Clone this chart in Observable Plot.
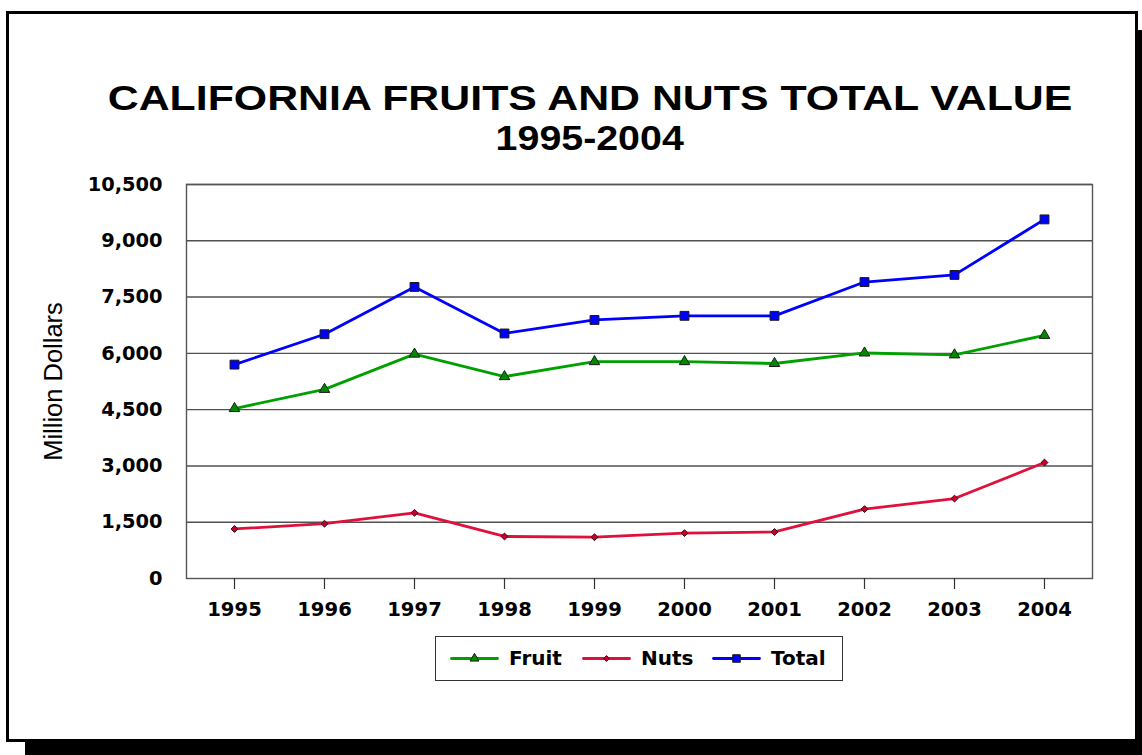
<!DOCTYPE html>
<html>
<head>
<meta charset="utf-8">
<script src="https://cdn.jsdelivr.net/npm/d3@7"></script>
<script src="https://cdn.jsdelivr.net/npm/@observablehq/plot@0.6"></script>
<style>
  html, body { margin: 0; padding: 0; background: #fff; }
  body { width: 1142px; height: 755px; position: relative; overflow: hidden; }
  #frame { position: absolute; left: 6px; top: 11px; width: 1132px; height: 731px; box-sizing: border-box;
           border: 3px solid #000; box-shadow: 19px 19px 0 #000; background: #fff; }
  .title { position: absolute; left: 19px; width: 1142px; text-align: center; font-family: "Liberation Sans", Arial, sans-serif;
           font-weight: bold; color: #000; white-space: nowrap; }
  .title span { display: inline-block; }
  #t1 { top: 80px; font-size: 35px; line-height: 35px; }
  #t1 span { transform: scaleX(1.224); }
  #t2 { top: 120px; font-size: 35px; line-height: 35px; }
  #t2 span { transform: scaleX(1.124); }
  #chart { position: absolute; left: 0; top: 170px; }
  #legend { position: absolute; left: 435px; top: 636px; width: 408px; height: 45px; box-sizing: border-box;
            border: 1.5px solid #333; background: #fff; }
  .lg { position: absolute; top: 0; height: 42px; line-height: 42px; font-family: "DejaVu Sans", sans-serif;
        font-weight: bold; font-size: 20px; color: #000; }
  .sw { position: absolute; top: 12px; }
</style>
</head>
<body>
<div id="frame"></div>
<div class="title" id="t1"><span>CALIFORNIA FRUITS AND NUTS TOTAL VALUE</span></div>
<div class="title" id="t2"><span>1995-2004</span></div>
<div id="chart"></div>
<div id="legend"></div>
<script>
const years = ["1995","1996","1997","1998","1999","2000","2001","2002","2003","2004"];
const fruit = [4530, 5040, 5980, 5380, 5780, 5780, 5730, 6010, 5960, 6480];
const nuts  = [1320, 1460, 1750, 1120, 1100, 1210, 1240, 1850, 2130, 3090];
const total = [5700, 6510, 7770, 6530, 6890, 7000, 7000, 7900, 8090, 9570];
const yTicks = [0, 1500, 3000, 4500, 6000, 7500, 9000, 10500];
const seriesNames = ["Fruit", "Nuts", "Total"];

const colors = {Fruit: "#00a000", Nuts: "#e0103c", Total: "#0000ff"};
const markFill = {Fruit: "#008a00", Nuts: "#c8002c", Total: "#0000ff"};
const symbols = {Fruit: "triangle", Nuts: "diamond2", Total: "square"};
const sizes = {Fruit: 3.9, Nuts: 3.1, Total: 5.0};
const seriesVals = {Fruit: fruit, Nuts: nuts, Total: total};

const rows = seriesNames.flatMap(s => years.map((yr, i) => ({series: s, year: yr, value: seriesVals[s][i]})));

const marks = [
  Plot.ruleY(yTicks.slice(1), {stroke: "#505050", strokeWidth: 1.4}),
  Plot.frame({stroke: "#555", strokeWidth: 1.4}),
  Plot.axisX({tickSize: 11, tickPadding: 13, fontSize: 19.6, fontFamily: "DejaVu Sans", fontWeight: "bold", stroke: "#333", strokeWidth: 1.2, label: null}),
  Plot.axisY({ticks: yTicks, tickSize: 0, tickPadding: 24, fontSize: 19.4, fontFamily: "DejaVu Sans", fontWeight: "bold", tickFormat: d3.format(","), label: null}),
  Plot.text(["Million Dollars"], {frameAnchor: "left", dx: -133, rotate: -90, textAnchor: "middle", fontSize: 25.5, fontFamily: "Liberation Sans", fill: "#000"})
];
for (const s of seriesNames) {
  const d = rows.filter(r => r.series === s);
  marks.push(Plot.line(d, {x: "year", y: "value", stroke: colors[s], strokeWidth: 2.8}));
  marks.push(Plot.dot(d, {x: "year", y: "value", symbol: symbols[s], r: sizes[s], fill: markFill[s], stroke: "#1a1a1a", strokeWidth: 1}));
}

const chart = Plot.plot({
  width: 1142,
  height: 460,
  marginTop: 14,
  marginBottom: 52,
  marginLeft: 186,
  marginRight: 50,
  style: {background: "transparent", color: "#000", overflow: "visible"},
  x: {type: "point", domain: years, padding: 0.5, axis: null},
  y: {domain: [0, 10500], axis: null},
  marks
});
document.getElementById("chart").appendChild(chart);

// Legend
const legend = document.getElementById("legend");
const lgPos = {Fruit: [15, 73], Nuts: [147, 205], Total: [277, 335]};
for (const s of seriesNames) {
  const [sx, tx] = lgPos[s];
  const sw = Plot.plot({
    width: 46, height: 18, margin: 0,
    x: {domain: [0, 1], axis: null}, y: {domain: [0, 1], axis: null},
    style: {background: "transparent", overflow: "visible"},
    marks: [
      Plot.lineY([0.5, 0.5], {x: [0, 1], stroke: colors[s], strokeWidth: 2.8}),
      Plot.dot([0], {x: () => 0.5, y: () => 0.5, symbol: symbols[s], r: sizes[s] * 0.85, fill: markFill[s], stroke: "#1a1a1a", strokeWidth: 1})
    ]
  });
  sw.classList.add("sw");
  sw.style.left = sx + "px";
  legend.appendChild(sw);
  const t = document.createElement("div");
  t.className = "lg";
  t.style.left = tx + "px";
  t.textContent = s;
  legend.appendChild(t);
}
</script>
</body>
</html>
